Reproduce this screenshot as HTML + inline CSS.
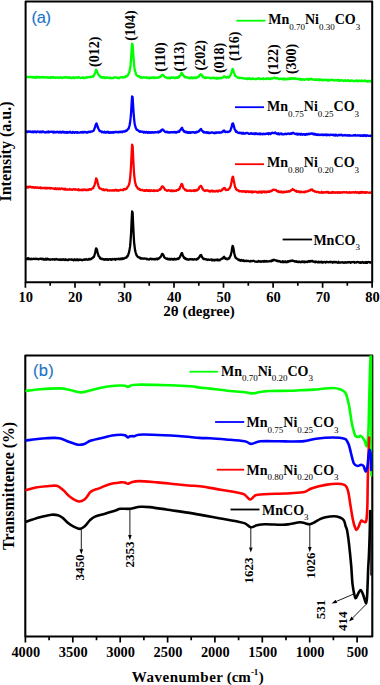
<!DOCTYPE html>
<html><head><meta charset="utf-8"><style>
html,body{margin:0;padding:0;background:#fff;}
svg{display:block;}
</style></head><body>
<svg width="380" height="685" viewBox="0 0 380 685">
<clipPath id="ca"><rect x="25.6" y="1.6" width="346.6" height="280.7"/></clipPath>
<clipPath id="cb"><rect x="25.3" y="355.5" width="347" height="281"/></clipPath>
<g clip-path="url(#ca)" fill="none" stroke-width="2.3" stroke-linejoin="round">
<path d="M25.6,258.7 L26.1,259.0 L26.6,258.9 L27.1,259.1 L27.6,258.3 L28.1,259.1 L28.6,258.2 L29.1,259.0 L29.6,258.9 L30.1,258.8 L30.6,259.3 L31.1,258.9 L31.6,258.7 L32.1,259.1 L32.6,259.2 L33.1,259.0 L33.6,258.7 L34.1,258.8 L34.6,258.8 L35.1,259.1 L35.6,258.7 L36.1,258.8 L36.6,259.0 L37.1,258.8 L37.6,258.8 L38.1,259.3 L38.6,259.3 L39.1,259.0 L39.6,258.9 L40.1,258.7 L40.6,258.8 L41.1,258.7 L41.6,259.1 L42.1,259.1 L42.6,258.7 L43.1,259.5 L43.6,258.9 L44.1,259.5 L44.6,259.5 L45.1,259.6 L45.6,258.8 L46.1,259.1 L46.6,259.6 L47.1,258.7 L47.6,258.7 L48.1,259.3 L48.6,259.2 L49.1,259.6 L49.6,259.5 L50.1,259.3 L50.6,259.8 L51.1,259.3 L51.6,259.3 L52.1,259.5 L52.6,259.2 L53.1,259.2 L53.6,259.4 L54.1,259.2 L54.6,259.8 L55.1,259.5 L55.6,259.4 L56.1,259.0 L56.6,259.3 L57.1,259.3 L57.6,259.5 L58.1,259.5 L58.6,259.8 L59.1,259.9 L59.6,259.5 L60.1,259.4 L60.6,259.6 L61.1,260.0 L61.6,259.4 L62.1,259.6 L62.6,259.8 L63.1,259.2 L63.6,259.4 L64.1,260.0 L64.6,259.9 L65.1,259.6 L65.6,259.2 L66.1,260.0 L66.6,259.8 L67.1,259.9 L67.6,260.1 L68.1,260.0 L68.6,259.6 L69.1,259.3 L69.6,259.5 L70.1,259.7 L70.6,259.7 L71.1,259.4 L71.6,259.4 L72.1,259.9 L72.6,259.8 L73.1,259.6 L73.6,260.3 L74.1,259.9 L74.6,259.3 L75.1,259.7 L75.6,260.1 L76.1,259.6 L76.6,260.0 L77.1,259.3 L77.6,259.6 L78.1,260.2 L78.6,259.9 L79.1,260.0 L79.6,259.5 L80.1,259.8 L80.6,259.9 L81.1,259.6 L81.6,260.0 L82.1,259.8 L82.6,260.3 L83.1,259.8 L83.6,259.7 L84.1,259.4 L84.6,259.4 L85.1,259.9 L85.6,259.3 L86.1,259.2 L86.6,259.3 L87.1,259.6 L87.6,259.8 L88.1,259.6 L88.6,259.7 L89.1,258.9 L89.6,258.8 L90.1,259.4 L90.6,258.9 L91.1,259.1 L91.6,258.6 L92.1,258.1 L92.6,257.9 L93.1,257.2 L93.6,257.4 L94.1,256.2 L94.6,254.6 L95.1,252.8 L95.6,250.5 L96.1,248.3 L96.6,248.9 L97.1,250.2 L97.6,252.9 L98.1,254.3 L98.6,255.9 L99.1,256.5 L99.6,257.0 L100.1,258.4 L100.6,258.7 L101.1,258.4 L101.6,259.1 L102.1,259.2 L102.6,258.8 L103.1,259.2 L103.6,259.6 L104.1,259.2 L104.6,259.7 L105.1,259.1 L105.6,259.2 L106.1,259.6 L106.6,259.1 L107.1,259.2 L107.6,259.8 L108.1,259.4 L108.6,259.7 L109.1,259.2 L109.6,259.1 L110.1,259.3 L110.6,259.1 L111.1,259.9 L111.6,259.2 L112.1,259.5 L112.6,259.0 L113.1,259.4 L113.6,259.3 L114.1,259.3 L114.6,258.9 L115.1,259.0 L115.6,259.7 L116.1,259.2 L116.6,259.0 L117.1,259.0 L117.6,259.0 L118.1,258.9 L118.6,258.7 L119.1,259.3 L119.6,258.9 L120.1,258.7 L120.6,259.2 L121.1,258.5 L121.6,258.6 L122.1,259.1 L122.6,258.3 L123.1,258.5 L123.6,258.8 L124.1,258.6 L124.6,257.8 L125.1,257.8 L125.6,257.9 L126.1,257.3 L126.6,257.5 L127.1,256.2 L127.6,256.3 L128.1,255.0 L128.6,253.6 L129.1,252.1 L129.6,249.4 L130.1,246.4 L130.6,240.4 L131.1,232.6 L131.6,221.0 L132.1,211.5 L132.6,212.6 L133.1,223.4 L133.6,233.9 L134.1,242.3 L134.6,246.6 L135.1,250.3 L135.6,252.6 L136.1,253.8 L136.6,255.4 L137.1,255.8 L137.6,256.7 L138.1,257.1 L138.6,257.2 L139.1,257.5 L139.6,257.5 L140.1,257.8 L140.6,258.6 L141.1,258.2 L141.6,258.6 L142.1,258.2 L142.6,258.7 L143.1,258.6 L143.6,258.8 L144.1,258.6 L144.6,258.4 L145.1,258.7 L145.6,258.7 L146.1,258.6 L146.6,259.2 L147.1,258.8 L147.6,258.9 L148.1,259.5 L148.6,259.3 L149.1,259.5 L149.6,259.4 L150.1,258.7 L150.6,258.9 L151.1,258.6 L151.6,259.3 L152.1,259.3 L152.6,259.0 L153.1,259.0 L153.6,259.3 L154.1,259.3 L154.6,258.9 L155.1,259.4 L155.6,258.9 L156.1,259.2 L156.6,258.7 L157.1,258.5 L157.6,259.3 L158.1,259.0 L158.6,258.8 L159.1,258.0 L159.6,257.7 L160.1,257.4 L160.6,256.8 L161.1,256.1 L161.6,255.1 L162.1,253.8 L162.6,253.8 L163.1,254.8 L163.6,255.4 L164.1,257.1 L164.6,257.5 L165.1,258.2 L165.6,258.1 L166.1,258.5 L166.6,258.9 L167.1,258.7 L167.6,258.5 L168.1,259.4 L168.6,259.4 L169.1,259.0 L169.6,258.8 L170.1,259.6 L170.6,259.4 L171.1,258.8 L171.6,259.0 L172.1,258.9 L172.6,259.6 L173.1,259.0 L173.6,259.7 L174.1,259.5 L174.6,258.8 L175.1,259.4 L175.6,259.1 L176.1,259.4 L176.6,259.4 L177.1,258.7 L177.6,258.4 L178.1,259.0 L178.6,258.2 L179.1,258.3 L179.6,257.5 L180.1,256.7 L180.6,255.6 L181.1,254.1 L181.6,253.2 L182.1,253.1 L182.6,255.0 L183.1,255.9 L183.6,257.0 L184.1,258.1 L184.6,257.8 L185.1,258.8 L185.6,258.3 L186.1,259.2 L186.6,259.4 L187.1,259.0 L187.6,259.3 L188.1,259.8 L188.6,259.5 L189.1,259.5 L189.6,259.2 L190.1,259.0 L190.6,259.4 L191.1,259.4 L191.6,259.2 L192.1,259.3 L192.6,259.2 L193.1,259.7 L193.6,259.7 L194.1,259.2 L194.6,259.2 L195.1,259.4 L195.6,259.3 L196.1,259.7 L196.6,259.0 L197.1,258.8 L197.6,259.2 L198.1,258.1 L198.6,258.1 L199.1,257.2 L199.6,256.8 L200.1,255.5 L200.6,255.2 L201.1,254.9 L201.6,256.3 L202.1,257.2 L202.6,257.8 L203.1,258.7 L203.6,259.1 L204.1,258.7 L204.6,259.1 L205.1,259.3 L205.6,259.2 L206.1,259.2 L206.6,259.5 L207.1,259.4 L207.6,260.0 L208.1,259.8 L208.6,259.5 L209.1,259.7 L209.6,259.9 L210.1,259.8 L210.6,259.6 L211.1,259.6 L211.6,259.5 L212.1,260.5 L212.6,260.3 L213.1,259.6 L213.6,260.3 L214.1,260.5 L214.6,260.1 L215.1,259.7 L215.6,260.0 L216.1,260.0 L216.6,259.7 L217.1,260.1 L217.6,259.5 L218.1,260.4 L218.6,260.1 L219.1,260.0 L219.6,260.3 L220.1,259.9 L220.6,259.4 L221.1,259.2 L221.6,258.8 L222.1,258.4 L222.6,258.6 L223.1,258.1 L223.6,257.0 L224.1,256.8 L224.6,257.6 L225.1,258.4 L225.6,258.9 L226.1,258.4 L226.6,259.2 L227.1,259.3 L227.6,259.2 L228.1,258.6 L228.6,258.2 L229.1,258.5 L229.6,257.4 L230.1,256.6 L230.6,255.6 L231.1,253.7 L231.6,251.7 L232.1,248.2 L232.6,245.9 L233.1,246.8 L233.6,249.2 L234.1,252.3 L234.6,254.6 L235.1,256.5 L235.6,257.7 L236.1,258.0 L236.6,258.6 L237.1,258.7 L237.6,259.2 L238.1,259.7 L238.6,259.4 L239.1,260.2 L239.6,259.8 L240.1,260.2 L240.6,260.8 L241.1,260.0 L241.6,260.1 L242.1,260.5 L242.6,260.3 L243.1,260.9 L243.6,260.2 L244.1,261.1 L244.6,261.2 L245.1,261.1 L245.6,260.8 L246.1,260.7 L246.6,261.1 L247.1,261.0 L247.6,260.9 L248.1,260.8 L248.6,261.0 L249.1,261.2 L249.6,261.4 L250.1,261.5 L250.6,260.8 L251.1,260.9 L251.6,261.1 L252.1,261.2 L252.6,261.0 L253.1,260.9 L253.6,260.8 L254.1,261.0 L254.6,261.2 L255.1,261.7 L255.6,261.7 L256.1,261.6 L256.6,261.8 L257.1,261.8 L257.6,261.4 L258.1,261.6 L258.6,260.9 L259.1,261.5 L259.6,261.5 L260.1,261.2 L260.6,261.4 L261.1,261.8 L261.6,261.4 L262.1,261.5 L262.6,261.2 L263.1,261.3 L263.6,261.8 L264.1,261.0 L264.6,261.1 L265.1,261.6 L265.6,261.4 L266.1,261.0 L266.6,261.6 L267.1,261.3 L267.6,261.5 L268.1,261.3 L268.6,261.4 L269.1,261.4 L269.6,261.2 L270.1,260.8 L270.6,260.8 L271.1,261.4 L271.6,260.9 L272.1,260.3 L272.6,260.9 L273.1,260.0 L273.6,259.7 L274.1,260.0 L274.6,259.8 L275.1,260.2 L275.6,260.4 L276.1,260.3 L276.6,260.9 L277.1,260.6 L277.6,261.2 L278.1,261.4 L278.6,261.0 L279.1,261.4 L279.6,261.1 L280.1,261.5 L280.6,262.0 L281.1,261.7 L281.6,261.9 L282.1,262.0 L282.6,261.3 L283.1,262.2 L283.6,262.0 L284.1,261.4 L284.6,262.1 L285.1,261.6 L285.6,261.4 L286.1,262.2 L286.6,261.8 L287.1,262.0 L287.6,261.3 L288.1,261.9 L288.6,261.1 L289.1,261.2 L289.6,261.3 L290.1,260.8 L290.6,261.3 L291.1,260.7 L291.6,260.6 L292.1,260.9 L292.6,260.5 L293.1,261.0 L293.6,260.8 L294.1,261.3 L294.6,261.1 L295.1,261.6 L295.6,261.7 L296.1,261.1 L296.6,261.8 L297.1,261.5 L297.6,262.0 L298.1,261.9 L298.6,262.1 L299.1,261.4 L299.6,261.7 L300.1,262.1 L300.6,262.3 L301.1,262.1 L301.6,261.5 L302.1,262.0 L302.6,261.5 L303.1,262.0 L303.6,262.2 L304.1,261.5 L304.6,262.3 L305.1,262.1 L305.6,261.6 L306.1,261.6 L306.6,261.8 L307.1,262.2 L307.6,261.9 L308.1,261.3 L308.6,261.2 L309.1,261.2 L309.6,261.8 L310.1,261.0 L310.6,261.3 L311.1,260.9 L311.6,261.3 L312.1,261.1 L312.6,260.9 L313.1,261.8 L313.6,261.6 L314.1,261.8 L314.6,262.0 L315.1,262.3 L315.6,261.4 L316.1,261.8 L316.6,261.6 L317.1,262.0 L317.6,262.4 L318.1,262.3 L318.6,261.6 L319.1,261.8 L319.6,262.4 L320.1,262.3 L320.6,262.0 L321.1,262.1 L321.6,261.8 L322.1,262.5 L322.6,262.0 L323.1,262.5 L323.6,262.3 L324.1,261.8 L324.6,262.0 L325.1,261.9 L325.6,262.6 L326.1,262.3 L326.6,261.7 L327.1,261.9 L327.6,262.1 L328.1,262.2 L328.6,262.3 L329.1,262.1 L329.6,262.1 L330.1,261.7 L330.6,262.3 L331.1,262.1 L331.6,261.8 L332.1,262.2 L332.6,262.7 L333.1,261.8 L333.6,261.9 L334.1,262.4 L334.6,262.0 L335.1,262.0 L335.6,262.3 L336.1,262.0 L336.6,262.4 L337.1,262.3 L337.6,262.7 L338.1,262.8 L338.6,261.8 L339.1,262.4 L339.6,262.6 L340.1,262.7 L340.6,262.6 L341.1,262.4 L341.6,262.4 L342.1,262.2 L342.6,262.1 L343.1,262.6 L343.6,262.7 L344.1,262.8 L344.6,262.5 L345.1,262.1 L345.6,262.6 L346.1,262.6 L346.6,262.4 L347.1,262.5 L347.6,262.2 L348.1,262.4 L348.6,262.3 L349.1,261.9 L349.6,262.2 L350.1,262.2 L350.6,262.9 L351.1,262.4 L351.6,262.2 L352.1,262.1 L352.6,262.1 L353.1,262.2 L353.6,262.0 L354.1,261.9 L354.6,262.8 L355.1,262.3 L355.6,262.3 L356.1,262.5 L356.6,262.2 L357.1,262.1 L357.6,262.0 L358.1,262.2 L358.6,262.2 L359.1,262.6 L359.6,262.5 L360.1,262.9 L360.6,262.3 L361.1,262.9 L361.6,262.5 L362.1,262.0 L362.6,262.1 L363.1,262.5 L363.6,262.9 L364.1,262.3 L364.6,262.7 L365.1,262.4 L365.6,262.8 L366.1,262.0 L366.6,262.4 L367.1,262.9 L367.6,262.2 L368.1,262.2 L368.6,262.0 L369.1,262.1 L369.6,262.2 L370.1,262.7 L370.6,262.2 L371.1,262.4 L371.6,262.2" stroke="#000"/>
<path d="M25.6,186.7 L26.1,187.2 L26.6,186.9 L27.1,187.3 L27.6,186.7 L28.1,187.6 L28.6,187.0 L29.1,186.7 L29.6,187.0 L30.1,187.1 L30.6,186.7 L31.1,187.2 L31.6,187.2 L32.1,187.5 L32.6,187.2 L33.1,187.1 L33.6,187.1 L34.1,187.7 L34.6,187.9 L35.1,187.5 L35.6,187.2 L36.1,187.8 L36.6,187.5 L37.1,187.3 L37.6,187.3 L38.1,187.9 L38.6,188.0 L39.1,187.8 L39.6,187.7 L40.1,187.8 L40.6,187.5 L41.1,188.3 L41.6,187.7 L42.1,188.0 L42.6,188.2 L43.1,188.2 L43.6,187.9 L44.1,187.8 L44.6,188.1 L45.1,187.7 L45.6,188.4 L46.1,187.9 L46.6,188.5 L47.1,187.9 L47.6,188.0 L48.1,188.0 L48.6,188.2 L49.1,187.9 L49.6,187.8 L50.1,188.5 L50.6,188.1 L51.1,188.1 L51.6,188.2 L52.1,188.4 L52.6,188.4 L53.1,188.6 L53.6,188.7 L54.1,188.4 L54.6,189.0 L55.1,188.9 L55.6,188.2 L56.1,189.0 L56.6,189.1 L57.1,189.0 L57.6,188.4 L58.1,189.1 L58.6,188.9 L59.1,188.3 L59.6,188.3 L60.1,189.3 L60.6,189.0 L61.1,188.7 L61.6,188.5 L62.1,188.6 L62.6,188.7 L63.1,189.3 L63.6,188.9 L64.1,188.7 L64.6,189.5 L65.1,189.4 L65.6,188.8 L66.1,189.6 L66.6,189.3 L67.1,189.5 L67.6,189.4 L68.1,189.7 L68.6,189.6 L69.1,189.7 L69.6,189.0 L70.1,189.6 L70.6,189.4 L71.1,189.7 L71.6,189.4 L72.1,189.9 L72.6,189.6 L73.1,189.3 L73.6,189.3 L74.1,189.2 L74.6,189.6 L75.1,189.2 L75.6,189.6 L76.1,189.3 L76.6,189.7 L77.1,189.7 L77.6,189.8 L78.1,190.1 L78.6,189.3 L79.1,190.2 L79.6,189.8 L80.1,189.9 L80.6,190.0 L81.1,190.2 L81.6,189.7 L82.1,189.8 L82.6,190.3 L83.1,189.4 L83.6,190.0 L84.1,190.0 L84.6,189.4 L85.1,189.9 L85.6,190.0 L86.1,190.2 L86.6,189.6 L87.1,190.2 L87.6,189.7 L88.1,189.7 L88.6,190.0 L89.1,189.1 L89.6,189.7 L90.1,189.5 L90.6,189.1 L91.1,189.5 L91.6,188.8 L92.1,188.7 L92.6,188.4 L93.1,188.2 L93.6,187.0 L94.1,186.2 L94.6,184.8 L95.1,183.1 L95.6,181.0 L96.1,178.4 L96.6,178.8 L97.1,180.1 L97.6,182.6 L98.1,184.4 L98.6,186.1 L99.1,187.6 L99.6,188.1 L100.1,188.7 L100.6,188.6 L101.1,188.9 L101.6,189.1 L102.1,189.5 L102.6,189.7 L103.1,190.0 L103.6,189.3 L104.1,190.1 L104.6,190.3 L105.1,190.0 L105.6,189.6 L106.1,189.9 L106.6,189.6 L107.1,189.8 L107.6,190.6 L108.1,190.3 L108.6,190.4 L109.1,190.5 L109.6,190.6 L110.1,190.4 L110.6,190.4 L111.1,190.4 L111.6,190.5 L112.1,190.4 L112.6,190.5 L113.1,190.0 L113.6,190.5 L114.1,190.3 L114.6,190.6 L115.1,189.9 L115.6,190.0 L116.1,189.8 L116.6,190.6 L117.1,190.7 L117.6,190.4 L118.1,190.1 L118.6,190.6 L119.1,190.5 L119.6,190.3 L120.1,189.9 L120.6,189.9 L121.1,190.0 L121.6,189.8 L122.1,189.9 L122.6,190.0 L123.1,190.2 L123.6,189.3 L124.1,189.6 L124.6,189.0 L125.1,188.9 L125.6,189.3 L126.1,188.8 L126.6,188.8 L127.1,187.9 L127.6,186.8 L128.1,186.4 L128.6,185.5 L129.1,184.3 L129.6,182.0 L130.1,178.1 L130.6,172.7 L131.1,164.3 L131.6,154.1 L132.1,144.7 L132.6,145.8 L133.1,155.7 L133.6,166.1 L134.1,174.2 L134.6,178.5 L135.1,182.6 L135.6,183.8 L136.1,186.1 L136.6,186.4 L137.1,187.0 L137.6,188.3 L138.1,188.3 L138.6,189.1 L139.1,188.9 L139.6,189.0 L140.1,189.9 L140.6,190.0 L141.1,190.2 L141.6,190.2 L142.1,189.7 L142.6,190.3 L143.1,190.5 L143.6,190.3 L144.1,190.8 L144.6,190.2 L145.1,190.9 L145.6,190.7 L146.1,190.0 L146.6,190.1 L147.1,190.7 L147.6,190.9 L148.1,190.2 L148.6,190.4 L149.1,190.9 L149.6,190.3 L150.1,191.0 L150.6,190.7 L151.1,190.2 L151.6,190.5 L152.1,190.8 L152.6,190.6 L153.1,190.9 L153.6,190.3 L154.1,191.0 L154.6,190.5 L155.1,190.8 L155.6,190.7 L156.1,190.5 L156.6,190.4 L157.1,190.8 L157.6,190.9 L158.1,190.6 L158.6,190.2 L159.1,189.8 L159.6,189.3 L160.1,189.8 L160.6,189.0 L161.1,188.4 L161.6,187.0 L162.1,186.3 L162.6,186.4 L163.1,186.9 L163.6,187.6 L164.1,188.2 L164.6,189.0 L165.1,189.9 L165.6,189.7 L166.1,190.3 L166.6,190.4 L167.1,190.8 L167.6,190.8 L168.1,190.3 L168.6,190.1 L169.1,190.4 L169.6,190.6 L170.1,190.8 L170.6,191.0 L171.1,191.1 L171.6,190.2 L172.1,191.0 L172.6,191.0 L173.1,191.1 L173.6,190.7 L174.1,190.4 L174.6,191.0 L175.1,190.9 L175.6,190.7 L176.1,190.9 L176.6,190.2 L177.1,189.8 L177.6,190.1 L178.1,190.1 L178.6,189.2 L179.1,189.3 L179.6,188.9 L180.1,187.2 L180.6,186.4 L181.1,185.0 L181.6,184.0 L182.1,184.1 L182.6,185.5 L183.1,187.3 L183.6,188.4 L184.1,188.8 L184.6,189.0 L185.1,190.1 L185.6,190.3 L186.1,189.9 L186.6,190.4 L187.1,190.8 L187.6,190.9 L188.1,190.6 L188.6,190.6 L189.1,190.8 L189.6,190.4 L190.1,190.4 L190.6,190.4 L191.1,191.0 L191.6,190.6 L192.1,190.8 L192.6,190.6 L193.1,190.8 L193.6,190.4 L194.1,190.2 L194.6,191.1 L195.1,190.5 L195.6,190.1 L196.1,190.6 L196.6,190.6 L197.1,189.8 L197.6,190.0 L198.1,189.4 L198.6,189.0 L199.1,187.8 L199.6,186.9 L200.1,186.7 L200.6,186.0 L201.1,185.9 L201.6,187.0 L202.1,187.7 L202.6,189.1 L203.1,189.3 L203.6,190.3 L204.1,190.4 L204.6,190.7 L205.1,191.0 L205.6,190.4 L206.1,190.3 L206.6,190.5 L207.1,190.5 L207.6,190.5 L208.1,190.5 L208.6,191.0 L209.1,191.4 L209.6,191.0 L210.1,191.5 L210.6,191.5 L211.1,190.6 L211.6,191.2 L212.1,191.0 L212.6,190.7 L213.1,191.6 L213.6,190.9 L214.1,191.2 L214.6,191.3 L215.1,191.6 L215.6,191.3 L216.1,191.0 L216.6,191.0 L217.1,190.7 L217.6,191.5 L218.1,191.5 L218.6,190.7 L219.1,190.5 L219.6,190.6 L220.1,190.6 L220.6,191.0 L221.1,190.9 L221.6,190.5 L222.1,189.4 L222.6,189.6 L223.1,188.9 L223.6,188.3 L224.1,188.6 L224.6,188.0 L225.1,188.6 L225.6,189.7 L226.1,190.2 L226.6,190.0 L227.1,189.7 L227.6,189.9 L228.1,189.9 L228.6,189.0 L229.1,188.8 L229.6,188.2 L230.1,187.2 L230.6,186.3 L231.1,184.1 L231.6,181.7 L232.1,178.6 L232.6,177.0 L233.1,176.6 L233.6,179.8 L234.1,182.3 L234.6,184.6 L235.1,187.2 L235.6,187.7 L236.1,189.3 L236.6,189.8 L237.1,190.3 L237.6,189.9 L238.1,190.4 L238.6,190.3 L239.1,191.3 L239.6,191.3 L240.1,191.2 L240.6,191.1 L241.1,191.1 L241.6,191.6 L242.1,191.4 L242.6,191.6 L243.1,191.1 L243.6,191.2 L244.1,191.1 L244.6,191.8 L245.1,191.7 L245.6,191.3 L246.1,192.0 L246.6,191.5 L247.1,191.6 L247.6,191.4 L248.1,191.5 L248.6,192.1 L249.1,191.6 L249.6,191.5 L250.1,191.8 L250.6,191.6 L251.1,192.2 L251.6,191.5 L252.1,192.3 L252.6,191.4 L253.1,192.3 L253.6,192.1 L254.1,191.6 L254.6,191.9 L255.1,191.7 L255.6,191.7 L256.1,191.6 L256.6,191.8 L257.1,192.4 L257.6,192.5 L258.1,192.4 L258.6,191.6 L259.1,191.8 L259.6,192.4 L260.1,191.5 L260.6,192.2 L261.1,191.8 L261.6,192.5 L262.1,191.5 L262.6,192.3 L263.1,191.8 L263.6,191.6 L264.1,191.5 L264.6,192.3 L265.1,192.0 L265.6,191.6 L266.1,191.9 L266.6,192.3 L267.1,191.6 L267.6,191.9 L268.1,191.4 L268.6,191.4 L269.1,191.9 L269.6,191.8 L270.1,191.2 L270.6,190.9 L271.1,190.7 L271.6,191.0 L272.1,190.6 L272.6,190.1 L273.1,189.7 L273.6,189.8 L274.1,189.7 L274.6,189.9 L275.1,189.8 L275.6,189.8 L276.1,190.0 L276.6,191.0 L277.1,190.9 L277.6,191.5 L278.1,191.0 L278.6,191.9 L279.1,191.5 L279.6,192.1 L280.1,192.2 L280.6,191.9 L281.1,191.5 L281.6,192.4 L282.1,192.0 L282.6,192.4 L283.1,191.8 L283.6,191.7 L284.1,192.4 L284.6,191.9 L285.1,191.7 L285.6,191.8 L286.1,192.0 L286.6,191.4 L287.1,191.8 L287.6,191.7 L288.1,191.7 L288.6,191.1 L289.1,191.6 L289.6,191.5 L290.1,191.3 L290.6,190.4 L291.1,190.5 L291.6,189.8 L292.1,189.8 L292.6,189.0 L293.1,189.8 L293.6,190.1 L294.1,190.0 L294.6,190.4 L295.1,190.7 L295.6,191.0 L296.1,190.7 L296.6,191.9 L297.1,191.3 L297.6,191.4 L298.1,191.4 L298.6,191.6 L299.1,192.2 L299.6,191.5 L300.1,191.6 L300.6,192.2 L301.1,191.7 L301.6,191.6 L302.1,192.1 L302.6,192.1 L303.1,192.1 L303.6,192.2 L304.1,191.6 L304.6,192.3 L305.1,192.2 L305.6,191.4 L306.1,191.5 L306.6,191.7 L307.1,191.6 L307.6,191.3 L308.1,191.0 L308.6,191.0 L309.1,190.5 L309.6,190.7 L310.1,190.6 L310.6,189.6 L311.1,189.8 L311.6,189.9 L312.1,189.4 L312.6,190.4 L313.1,190.8 L313.6,190.6 L314.1,191.0 L314.6,191.6 L315.1,191.5 L315.6,191.5 L316.1,192.2 L316.6,192.1 L317.1,191.8 L317.6,191.8 L318.1,191.9 L318.6,192.1 L319.1,192.6 L319.6,192.5 L320.1,192.6 L320.6,192.6 L321.1,192.6 L321.6,191.8 L322.1,192.3 L322.6,192.8 L323.1,192.8 L323.6,192.1 L324.1,192.3 L324.6,192.5 L325.1,192.2 L325.6,192.4 L326.1,191.9 L326.6,192.3 L327.1,192.4 L327.6,191.9 L328.1,192.0 L328.6,192.9 L329.1,192.7 L329.6,192.8 L330.1,192.5 L330.6,192.7 L331.1,192.8 L331.6,192.8 L332.1,192.0 L332.6,192.6 L333.1,192.2 L333.6,192.6 L334.1,192.2 L334.6,192.5 L335.1,192.9 L335.6,192.6 L336.1,192.2 L336.6,192.5 L337.1,192.4 L337.6,192.9 L338.1,192.2 L338.6,192.3 L339.1,192.6 L339.6,192.1 L340.1,192.5 L340.6,192.9 L341.1,192.5 L341.6,192.2 L342.1,192.4 L342.6,192.5 L343.1,192.1 L343.6,192.1 L344.1,192.1 L344.6,192.3 L345.1,192.4 L345.6,192.3 L346.1,192.2 L346.6,192.1 L347.1,192.5 L347.6,192.8 L348.1,192.6 L348.6,192.5 L349.1,192.6 L349.6,192.2 L350.1,192.7 L350.6,192.4 L351.1,192.5 L351.6,192.6 L352.1,192.4 L352.6,192.3 L353.1,192.2 L353.6,192.2 L354.1,192.5 L354.6,192.4 L355.1,192.6 L355.6,192.0 L356.1,192.3 L356.6,192.8 L357.1,192.2 L357.6,192.5 L358.1,192.5 L358.6,192.3 L359.1,193.0 L359.6,192.3 L360.1,192.8 L360.6,192.1 L361.1,192.0 L361.6,192.9 L362.1,192.4 L362.6,192.0 L363.1,192.4 L363.6,192.4 L364.1,192.7 L364.6,192.1 L365.1,192.2 L365.6,192.9 L366.1,192.7 L366.6,192.1 L367.1,192.3 L367.6,192.3 L368.1,192.7 L368.6,192.6 L369.1,192.8 L369.6,192.8 L370.1,192.5 L370.6,192.7 L371.1,192.7 L371.6,192.7" stroke="#f00"/>
<path d="M25.6,131.9 L26.1,131.6 L26.6,131.5 L27.1,131.9 L27.6,132.1 L28.1,131.4 L28.6,131.3 L29.1,131.6 L29.6,131.7 L30.1,131.9 L30.6,131.5 L31.1,132.1 L31.6,132.0 L32.1,131.8 L32.6,131.5 L33.1,132.3 L33.6,131.6 L34.1,132.1 L34.6,131.5 L35.1,131.5 L35.6,132.1 L36.1,131.6 L36.6,132.3 L37.1,131.8 L37.6,131.5 L38.1,131.6 L38.6,131.8 L39.1,132.0 L39.6,132.3 L40.1,131.5 L40.6,131.8 L41.1,131.6 L41.6,132.4 L42.1,131.6 L42.6,131.5 L43.1,131.5 L43.6,131.8 L44.1,132.3 L44.6,132.3 L45.1,132.2 L45.6,132.5 L46.1,132.4 L46.6,131.8 L47.1,131.7 L47.6,132.4 L48.1,132.3 L48.6,131.5 L49.1,132.2 L49.6,131.9 L50.1,131.9 L50.6,131.9 L51.1,131.7 L51.6,131.6 L52.1,131.8 L52.6,131.9 L53.1,132.5 L53.6,131.7 L54.1,132.6 L54.6,131.8 L55.1,132.0 L55.6,132.4 L56.1,132.4 L56.6,132.1 L57.1,131.7 L57.6,132.1 L58.1,132.0 L58.6,132.6 L59.1,131.9 L59.6,132.0 L60.1,132.6 L60.6,131.7 L61.1,132.1 L61.6,132.5 L62.1,132.5 L62.6,131.7 L63.1,131.7 L63.6,131.8 L64.1,132.6 L64.6,132.0 L65.1,132.5 L65.6,132.6 L66.1,132.1 L66.6,132.0 L67.1,132.7 L67.6,132.4 L68.1,132.0 L68.6,132.5 L69.1,132.1 L69.6,132.1 L70.1,131.8 L70.6,132.6 L71.1,132.7 L71.6,132.4 L72.1,132.8 L72.6,131.9 L73.1,132.1 L73.6,132.3 L74.1,132.8 L74.6,132.8 L75.1,132.2 L75.6,132.1 L76.1,132.3 L76.6,132.4 L77.1,132.8 L77.6,132.1 L78.1,132.7 L78.6,132.6 L79.1,132.7 L79.6,132.7 L80.1,132.5 L80.6,132.2 L81.1,132.2 L81.6,132.2 L82.1,132.6 L82.6,131.9 L83.1,132.0 L83.6,132.6 L84.1,132.1 L84.6,131.9 L85.1,131.8 L85.6,132.3 L86.1,132.1 L86.6,132.7 L87.1,132.6 L87.6,132.7 L88.1,131.9 L88.6,131.7 L89.1,131.7 L89.6,132.0 L90.1,132.1 L90.6,131.8 L91.1,131.5 L91.6,131.5 L92.1,131.5 L92.6,131.3 L93.1,131.0 L93.6,130.6 L94.1,129.7 L94.6,128.1 L95.1,127.4 L95.6,125.1 L96.1,123.9 L96.6,123.5 L97.1,125.2 L97.6,126.4 L98.1,128.0 L98.6,129.1 L99.1,129.8 L99.6,131.1 L100.1,131.1 L100.6,131.2 L101.1,131.4 L101.6,132.2 L102.1,131.8 L102.6,131.6 L103.1,132.3 L103.6,132.2 L104.1,132.6 L104.6,131.7 L105.1,132.1 L105.6,132.5 L106.1,132.6 L106.6,132.7 L107.1,131.8 L107.6,132.1 L108.1,131.9 L108.6,132.0 L109.1,132.8 L109.6,132.4 L110.1,132.7 L110.6,132.2 L111.1,132.7 L111.6,132.3 L112.1,132.1 L112.6,132.6 L113.1,132.8 L113.6,131.9 L114.1,132.4 L114.6,132.4 L115.1,132.0 L115.6,132.1 L116.1,131.9 L116.6,132.0 L117.1,132.0 L117.6,132.3 L118.1,132.4 L118.6,131.9 L119.1,131.7 L119.6,132.0 L120.1,132.3 L120.6,131.7 L121.1,131.8 L121.6,131.7 L122.1,132.2 L122.6,131.9 L123.1,131.3 L123.6,131.3 L124.1,131.5 L124.6,131.5 L125.1,131.5 L125.6,130.7 L126.1,130.6 L126.6,130.8 L127.1,130.2 L127.6,129.5 L128.1,128.9 L128.6,128.7 L129.1,126.8 L129.6,125.3 L130.1,122.3 L130.6,118.2 L131.1,112.3 L131.6,103.9 L132.1,96.3 L132.6,97.0 L133.1,105.4 L133.6,113.1 L134.1,118.8 L134.6,123.5 L135.1,125.5 L135.6,127.6 L136.1,128.4 L136.6,129.7 L137.1,129.9 L137.6,130.0 L138.1,130.2 L138.6,131.0 L139.1,131.3 L139.6,131.8 L140.1,131.1 L140.6,131.8 L141.1,131.6 L141.6,131.8 L142.1,131.6 L142.6,131.8 L143.1,132.1 L143.6,132.5 L144.1,131.7 L144.6,132.2 L145.1,132.5 L145.6,132.7 L146.1,132.0 L146.6,131.9 L147.1,132.7 L147.6,132.8 L148.1,132.3 L148.6,131.9 L149.1,132.8 L149.6,132.3 L150.1,132.8 L150.6,132.5 L151.1,132.7 L151.6,132.1 L152.1,132.7 L152.6,132.1 L153.1,132.3 L153.6,132.7 L154.1,132.7 L154.6,132.1 L155.1,132.1 L155.6,132.3 L156.1,132.4 L156.6,132.2 L157.1,131.9 L157.6,132.0 L158.1,132.4 L158.6,132.5 L159.1,131.5 L159.6,131.9 L160.1,131.8 L160.6,130.8 L161.1,131.1 L161.6,129.8 L162.1,129.7 L162.6,129.4 L163.1,129.9 L163.6,130.2 L164.1,130.9 L164.6,131.5 L165.1,131.6 L165.6,132.1 L166.1,132.0 L166.6,132.1 L167.1,131.8 L167.6,132.4 L168.1,132.3 L168.6,132.1 L169.1,132.7 L169.6,132.7 L170.1,132.4 L170.6,132.1 L171.1,132.4 L171.6,132.1 L172.1,132.1 L172.6,132.4 L173.1,132.0 L173.6,132.4 L174.1,132.4 L174.6,131.9 L175.1,132.5 L175.6,131.9 L176.1,132.5 L176.6,132.5 L177.1,132.1 L177.6,131.6 L178.1,131.9 L178.6,131.5 L179.1,131.8 L179.6,130.5 L180.1,130.6 L180.6,129.9 L181.1,128.7 L181.6,128.2 L182.1,127.8 L182.6,129.5 L183.1,129.9 L183.6,131.1 L184.1,131.6 L184.6,131.2 L185.1,132.1 L185.6,132.4 L186.1,131.7 L186.6,132.1 L187.1,132.5 L187.6,132.0 L188.1,132.8 L188.6,132.2 L189.1,132.8 L189.6,132.1 L190.1,132.5 L190.6,132.9 L191.1,132.2 L191.6,132.3 L192.1,132.5 L192.6,132.3 L193.1,132.0 L193.6,132.2 L194.1,132.1 L194.6,132.9 L195.1,132.6 L195.6,132.7 L196.1,132.0 L196.6,132.5 L197.1,131.7 L197.6,132.0 L198.1,131.8 L198.6,131.2 L199.1,131.3 L199.6,130.3 L200.1,129.6 L200.6,129.5 L201.1,128.9 L201.6,130.5 L202.1,130.8 L202.6,131.2 L203.1,132.0 L203.6,131.7 L204.1,132.6 L204.6,132.3 L205.1,132.2 L205.6,132.7 L206.1,132.5 L206.6,132.2 L207.1,132.9 L207.6,132.2 L208.1,133.0 L208.6,132.5 L209.1,132.9 L209.6,133.2 L210.1,132.8 L210.6,132.9 L211.1,132.6 L211.6,132.3 L212.1,132.3 L212.6,132.5 L213.1,132.9 L213.6,132.8 L214.1,132.9 L214.6,133.2 L215.1,132.5 L215.6,132.6 L216.1,133.0 L216.6,132.4 L217.1,132.3 L217.6,132.7 L218.1,132.4 L218.6,132.6 L219.1,132.5 L219.6,132.8 L220.1,132.7 L220.6,132.3 L221.1,132.6 L221.6,132.3 L222.1,131.7 L222.6,132.1 L223.1,131.0 L223.6,130.6 L224.1,130.5 L224.6,131.3 L225.1,131.9 L225.6,132.1 L226.1,131.9 L226.6,131.8 L227.1,131.6 L227.6,132.2 L228.1,132.0 L228.6,131.6 L229.1,131.7 L229.6,131.1 L230.1,131.0 L230.6,130.0 L231.1,128.3 L231.6,127.2 L232.1,124.4 L232.6,123.5 L233.1,123.5 L233.6,125.0 L234.1,126.9 L234.6,129.2 L235.1,129.6 L235.6,130.9 L236.1,131.9 L236.6,131.5 L237.1,131.9 L237.6,132.5 L238.1,132.6 L238.6,132.9 L239.1,133.1 L239.6,132.6 L240.1,132.8 L240.6,132.9 L241.1,132.7 L241.6,133.6 L242.1,133.5 L242.6,133.5 L243.1,132.8 L243.6,133.6 L244.1,133.6 L244.6,133.3 L245.1,133.6 L245.6,133.4 L246.1,133.1 L246.6,133.0 L247.1,133.2 L247.6,133.0 L248.1,133.3 L248.6,133.8 L249.1,133.7 L249.6,133.9 L250.1,133.8 L250.6,133.3 L251.1,133.6 L251.6,133.5 L252.1,133.9 L252.6,133.6 L253.1,133.4 L253.6,133.8 L254.1,134.1 L254.6,133.4 L255.1,134.0 L255.6,133.2 L256.1,133.4 L256.6,133.4 L257.1,133.9 L257.6,134.2 L258.1,134.0 L258.6,133.6 L259.1,134.1 L259.6,133.6 L260.1,133.5 L260.6,134.2 L261.1,133.9 L261.6,134.0 L262.1,133.9 L262.6,134.3 L263.1,133.8 L263.6,134.1 L264.1,134.0 L264.6,134.2 L265.1,133.7 L265.6,134.0 L266.1,133.9 L266.6,133.6 L267.1,133.5 L267.6,133.9 L268.1,133.3 L268.6,134.2 L269.1,133.4 L269.6,133.2 L270.1,133.3 L270.6,134.0 L271.1,133.4 L271.6,133.1 L272.1,132.8 L272.6,132.7 L273.1,133.2 L273.6,133.1 L274.1,133.0 L274.6,133.1 L275.1,132.5 L275.6,133.2 L276.1,133.1 L276.6,133.7 L277.1,133.9 L277.6,134.0 L278.1,133.3 L278.6,134.2 L279.1,134.3 L279.6,134.3 L280.1,133.5 L280.6,133.7 L281.1,133.6 L281.6,133.5 L282.1,134.4 L282.6,134.3 L283.1,134.2 L283.6,134.4 L284.1,134.2 L284.6,133.9 L285.1,133.7 L285.6,133.7 L286.1,134.3 L286.6,133.8 L287.1,133.9 L287.6,133.9 L288.1,133.5 L288.6,133.7 L289.1,133.7 L289.6,134.0 L290.1,133.6 L290.6,133.4 L291.1,133.9 L291.6,133.3 L292.1,133.6 L292.6,133.3 L293.1,132.7 L293.6,133.2 L294.1,133.3 L294.6,133.8 L295.1,133.6 L295.6,134.0 L296.1,134.0 L296.6,133.7 L297.1,134.5 L297.6,133.7 L298.1,134.5 L298.6,133.9 L299.1,133.8 L299.6,134.0 L300.1,134.6 L300.6,134.8 L301.1,133.8 L301.6,134.3 L302.1,134.4 L302.6,134.7 L303.1,134.1 L303.6,134.4 L304.1,134.2 L304.6,134.7 L305.1,134.1 L305.6,134.8 L306.1,134.1 L306.6,134.0 L307.1,134.5 L307.6,134.2 L308.1,133.8 L308.6,134.2 L309.1,133.6 L309.6,134.1 L310.1,133.9 L310.6,133.9 L311.1,133.6 L311.6,133.3 L312.1,133.5 L312.6,133.6 L313.1,134.2 L313.6,133.6 L314.1,134.5 L314.6,133.8 L315.1,134.0 L315.6,134.2 L316.1,134.9 L316.6,134.5 L317.1,134.4 L317.6,135.0 L318.1,134.4 L318.6,134.6 L319.1,134.7 L319.6,135.0 L320.1,135.0 L320.6,134.9 L321.1,134.6 L321.6,134.6 L322.1,134.5 L322.6,135.2 L323.1,135.0 L323.6,135.1 L324.1,134.5 L324.6,134.8 L325.1,135.1 L325.6,135.0 L326.1,134.5 L326.6,134.9 L327.1,135.3 L327.6,134.7 L328.1,134.6 L328.6,134.8 L329.1,135.2 L329.6,135.3 L330.1,134.6 L330.6,134.6 L331.1,134.7 L331.6,134.8 L332.1,135.0 L332.6,134.7 L333.1,134.9 L333.6,134.7 L334.1,135.5 L334.6,135.3 L335.1,134.7 L335.6,135.5 L336.1,134.7 L336.6,135.0 L337.1,135.6 L337.6,135.4 L338.1,135.4 L338.6,135.1 L339.1,134.8 L339.6,135.3 L340.1,134.8 L340.6,134.9 L341.1,135.1 L341.6,134.7 L342.1,135.1 L342.6,135.5 L343.1,135.4 L343.6,135.2 L344.1,135.4 L344.6,135.2 L345.1,134.9 L345.6,135.4 L346.1,135.2 L346.6,135.5 L347.1,135.7 L347.6,135.2 L348.1,135.4 L348.6,135.6 L349.1,135.2 L349.6,135.1 L350.1,135.6 L350.6,135.7 L351.1,135.6 L351.6,135.6 L352.1,135.7 L352.6,135.6 L353.1,135.5 L353.6,135.3 L354.1,135.2 L354.6,135.5 L355.1,135.0 L355.6,135.3 L356.1,135.7 L356.6,135.7 L357.1,135.6 L357.6,135.2 L358.1,135.4 L358.6,135.4 L359.1,135.6 L359.6,135.4 L360.1,135.7 L360.6,135.9 L361.1,135.2 L361.6,135.7 L362.1,135.8 L362.6,135.4 L363.1,135.5 L363.6,136.0 L364.1,135.1 L364.6,135.6 L365.1,135.2 L365.6,135.9 L366.1,136.0 L366.6,135.6 L367.1,135.2 L367.6,135.7 L368.1,135.7 L368.6,135.9 L369.1,135.7 L369.6,135.8 L370.1,136.0 L370.6,135.7 L371.1,135.6 L371.6,136.1" stroke="#00f"/>
<path d="M25.6,77.0 L26.1,76.8 L26.6,77.3 L27.1,76.8 L27.6,77.2 L28.1,77.1 L28.6,76.8 L29.1,77.2 L29.6,76.8 L30.1,77.2 L30.6,76.8 L31.1,76.8 L31.6,77.2 L32.1,77.6 L32.6,76.9 L33.1,77.0 L33.6,77.4 L34.1,77.7 L34.6,77.4 L35.1,77.2 L35.6,77.8 L36.1,76.8 L36.6,77.7 L37.1,77.1 L37.6,77.0 L38.1,76.9 L38.6,77.1 L39.1,77.6 L39.6,77.0 L40.1,77.4 L40.6,77.5 L41.1,77.2 L41.6,77.4 L42.1,76.9 L42.6,76.9 L43.1,77.1 L43.6,77.6 L44.1,77.3 L44.6,77.2 L45.1,77.5 L45.6,77.3 L46.1,77.2 L46.6,77.7 L47.1,77.6 L47.6,77.2 L48.1,77.5 L48.6,77.4 L49.1,77.8 L49.6,77.7 L50.1,77.2 L50.6,77.9 L51.1,77.1 L51.6,77.4 L52.1,77.7 L52.6,77.1 L53.1,77.5 L53.6,77.0 L54.1,77.6 L54.6,77.7 L55.1,77.6 L55.6,77.9 L56.1,77.3 L56.6,77.7 L57.1,77.6 L57.6,77.6 L58.1,77.5 L58.6,77.9 L59.1,78.0 L59.6,77.5 L60.1,77.7 L60.6,77.1 L61.1,77.7 L61.6,77.7 L62.1,78.0 L62.6,77.9 L63.1,77.4 L63.6,77.5 L64.1,77.7 L64.6,77.1 L65.1,77.5 L65.6,77.3 L66.1,77.2 L66.6,77.2 L67.1,77.9 L67.6,77.2 L68.1,77.4 L68.6,77.5 L69.1,78.0 L69.6,77.2 L70.1,77.6 L70.6,77.7 L71.1,78.0 L71.6,78.0 L72.1,78.0 L72.6,77.4 L73.1,77.6 L73.6,77.5 L74.1,78.0 L74.6,78.1 L75.1,77.3 L75.6,77.3 L76.1,77.4 L76.6,77.4 L77.1,77.7 L77.6,77.8 L78.1,77.4 L78.6,77.2 L79.1,77.6 L79.6,77.5 L80.1,77.7 L80.6,78.1 L81.1,77.9 L81.6,77.7 L82.1,77.8 L82.6,77.9 L83.1,77.2 L83.6,78.1 L84.1,77.9 L84.6,78.0 L85.1,77.9 L85.6,77.5 L86.1,77.5 L86.6,77.2 L87.1,77.7 L87.6,77.1 L88.1,77.1 L88.6,77.2 L89.1,77.1 L89.6,77.3 L90.1,76.9 L90.6,76.8 L91.1,76.8 L91.6,76.7 L92.1,76.8 L92.6,76.2 L93.1,76.7 L93.6,76.0 L94.1,74.9 L94.6,74.1 L95.1,72.9 L95.6,71.4 L96.1,69.8 L96.6,70.4 L97.1,71.7 L97.6,72.8 L98.1,74.1 L98.6,74.7 L99.1,75.4 L99.6,76.2 L100.1,76.4 L100.6,77.2 L101.1,76.8 L101.6,76.8 L102.1,77.8 L102.6,77.5 L103.1,77.1 L103.6,77.6 L104.1,77.1 L104.6,77.7 L105.1,78.1 L105.6,78.0 L106.1,77.9 L106.6,77.5 L107.1,77.6 L107.6,77.4 L108.1,78.0 L108.6,77.8 L109.1,78.0 L109.6,77.6 L110.1,77.5 L110.6,78.1 L111.1,78.3 L111.6,78.1 L112.1,78.1 L112.6,78.1 L113.1,78.0 L113.6,77.5 L114.1,77.8 L114.6,77.6 L115.1,77.3 L115.6,77.3 L116.1,77.5 L116.6,77.5 L117.1,77.9 L117.6,78.1 L118.1,77.6 L118.6,78.1 L119.1,78.1 L119.6,78.0 L120.1,77.4 L120.6,77.2 L121.1,77.2 L121.6,77.1 L122.1,77.1 L122.6,77.5 L123.1,77.7 L123.6,77.5 L124.1,77.0 L124.6,77.1 L125.1,77.1 L125.6,76.2 L126.1,76.6 L126.6,76.5 L127.1,76.1 L127.6,75.6 L128.1,74.7 L128.6,73.5 L129.1,72.9 L129.6,70.8 L130.1,68.6 L130.6,64.8 L131.1,58.1 L131.6,50.0 L132.1,43.7 L132.6,44.4 L133.1,51.4 L133.6,59.2 L134.1,64.9 L134.6,69.3 L135.1,71.6 L135.6,72.6 L136.1,74.4 L136.6,75.3 L137.1,75.6 L137.6,75.7 L138.1,76.3 L138.6,76.1 L139.1,76.2 L139.6,77.3 L140.1,77.2 L140.6,77.1 L141.1,77.7 L141.6,77.2 L142.1,77.7 L142.6,77.8 L143.1,77.2 L143.6,77.3 L144.1,77.4 L144.6,77.4 L145.1,77.7 L145.6,77.4 L146.1,77.6 L146.6,77.3 L147.1,78.1 L147.6,77.6 L148.1,77.7 L148.6,77.9 L149.1,78.2 L149.6,77.7 L150.1,78.2 L150.6,77.8 L151.1,77.9 L151.6,77.8 L152.1,77.3 L152.6,77.8 L153.1,77.5 L153.6,77.3 L154.1,78.1 L154.6,77.5 L155.1,77.8 L155.6,78.0 L156.1,77.8 L156.6,77.6 L157.1,77.7 L157.6,77.7 L158.1,77.9 L158.6,77.1 L159.1,77.4 L159.6,76.9 L160.1,76.7 L160.6,76.8 L161.1,76.0 L161.6,75.4 L162.1,75.0 L162.6,74.9 L163.1,74.9 L163.6,75.7 L164.1,76.3 L164.6,76.7 L165.1,77.2 L165.6,77.2 L166.1,77.5 L166.6,77.5 L167.1,78.1 L167.6,77.9 L168.1,78.1 L168.6,78.2 L169.1,77.6 L169.6,77.9 L170.1,78.3 L170.6,78.2 L171.1,77.5 L171.6,77.5 L172.1,77.8 L172.6,77.4 L173.1,77.6 L173.6,77.4 L174.1,78.0 L174.6,78.1 L175.1,78.1 L175.6,77.4 L176.1,77.9 L176.6,77.8 L177.1,77.2 L177.6,77.8 L178.1,77.7 L178.6,76.7 L179.1,77.1 L179.6,76.1 L180.1,75.6 L180.6,75.2 L181.1,74.0 L181.6,72.7 L182.1,73.3 L182.6,74.3 L183.1,75.1 L183.6,75.7 L184.1,76.4 L184.6,77.1 L185.1,76.7 L185.6,77.4 L186.1,77.4 L186.6,77.1 L187.1,77.5 L187.6,77.8 L188.1,77.8 L188.6,77.4 L189.1,78.3 L189.6,78.1 L190.1,78.3 L190.6,77.5 L191.1,77.6 L191.6,77.4 L192.1,78.2 L192.6,77.6 L193.1,77.5 L193.6,77.8 L194.1,78.2 L194.6,78.1 L195.1,77.5 L195.6,77.4 L196.1,78.1 L196.6,77.6 L197.1,77.6 L197.6,76.8 L198.1,76.6 L198.6,76.8 L199.1,76.0 L199.6,75.0 L200.1,75.0 L200.6,74.3 L201.1,74.7 L201.6,74.7 L202.1,76.2 L202.6,76.0 L203.1,77.3 L203.6,77.2 L204.1,77.3 L204.6,77.6 L205.1,78.1 L205.6,77.6 L206.1,77.5 L206.6,77.9 L207.1,77.7 L207.6,77.6 L208.1,77.7 L208.6,77.6 L209.1,77.8 L209.6,77.9 L210.1,77.9 L210.6,78.4 L211.1,77.9 L211.6,78.1 L212.1,77.8 L212.6,78.0 L213.1,77.7 L213.6,77.9 L214.1,77.7 L214.6,78.4 L215.1,78.2 L215.6,77.9 L216.1,78.1 L216.6,78.6 L217.1,77.8 L217.6,78.5 L218.1,78.1 L218.6,78.1 L219.1,78.4 L219.6,77.9 L220.1,78.0 L220.6,78.1 L221.1,78.3 L221.6,77.6 L222.1,77.9 L222.6,77.5 L223.1,77.1 L223.6,76.6 L224.1,76.5 L224.6,76.4 L225.1,76.7 L225.6,76.9 L226.1,77.7 L226.6,77.2 L227.1,77.1 L227.6,77.0 L228.1,77.6 L228.6,77.5 L229.1,77.0 L229.6,76.3 L230.1,75.7 L230.6,74.9 L231.1,73.9 L231.6,72.0 L232.1,70.4 L232.6,68.9 L233.1,69.8 L233.6,71.4 L234.1,72.8 L234.6,74.1 L235.1,75.9 L235.6,76.0 L236.1,76.6 L236.6,76.6 L237.1,77.3 L237.6,77.6 L238.1,77.8 L238.6,77.6 L239.1,78.0 L239.6,77.6 L240.1,77.9 L240.6,77.8 L241.1,78.2 L241.6,77.9 L242.1,77.9 L242.6,78.2 L243.1,78.2 L243.6,78.5 L244.1,78.5 L244.6,78.7 L245.1,78.7 L245.6,78.7 L246.1,78.9 L246.6,78.4 L247.1,78.4 L247.6,79.1 L248.1,78.2 L248.6,78.8 L249.1,78.8 L249.6,78.2 L250.1,79.0 L250.6,79.0 L251.1,78.8 L251.6,78.9 L252.1,79.0 L252.6,78.3 L253.1,78.7 L253.6,78.7 L254.1,79.0 L254.6,79.0 L255.1,79.0 L255.6,78.8 L256.1,79.1 L256.6,78.9 L257.1,78.9 L257.6,78.5 L258.1,78.3 L258.6,78.4 L259.1,78.6 L259.6,78.4 L260.1,79.1 L260.6,78.8 L261.1,78.9 L261.6,78.9 L262.1,79.0 L262.6,78.8 L263.1,78.3 L263.6,79.1 L264.1,79.1 L264.6,78.8 L265.1,78.8 L265.6,79.0 L266.1,78.4 L266.6,79.0 L267.1,78.5 L267.6,78.4 L268.1,78.5 L268.6,79.0 L269.1,78.4 L269.6,78.9 L270.1,79.1 L270.6,78.6 L271.1,78.4 L271.6,78.4 L272.1,78.6 L272.6,78.5 L273.1,78.3 L273.6,78.2 L274.1,77.6 L274.6,77.6 L275.1,77.8 L275.6,78.4 L276.1,78.1 L276.6,78.5 L277.1,78.1 L277.6,78.2 L278.1,78.5 L278.6,78.9 L279.1,79.0 L279.6,79.0 L280.1,78.6 L280.6,78.9 L281.1,78.9 L281.6,78.9 L282.1,78.6 L282.6,79.3 L283.1,78.7 L283.6,79.4 L284.1,79.4 L284.6,78.5 L285.1,78.9 L285.6,79.3 L286.1,79.4 L286.6,78.9 L287.1,78.7 L287.6,78.6 L288.1,79.3 L288.6,78.6 L289.1,78.9 L289.6,78.4 L290.1,78.7 L290.6,79.0 L291.1,78.1 L291.6,78.7 L292.1,78.3 L292.6,78.6 L293.1,78.4 L293.6,78.1 L294.1,78.9 L294.6,78.6 L295.1,78.2 L295.6,78.3 L296.1,78.9 L296.6,78.9 L297.1,78.9 L297.6,78.8 L298.1,79.0 L298.6,79.0 L299.1,79.6 L299.6,78.8 L300.1,79.5 L300.6,79.6 L301.1,78.9 L301.6,79.8 L302.1,79.6 L302.6,79.8 L303.1,79.2 L303.6,79.3 L304.1,79.3 L304.6,79.9 L305.1,79.5 L305.6,79.3 L306.1,79.3 L306.6,79.2 L307.1,78.9 L307.6,79.0 L308.1,79.7 L308.6,79.1 L309.1,79.7 L309.6,78.9 L310.1,78.9 L310.6,79.1 L311.1,78.7 L311.6,78.9 L312.1,79.5 L312.6,79.5 L313.1,79.5 L313.6,79.5 L314.1,79.8 L314.6,79.9 L315.1,79.6 L315.6,79.8 L316.1,79.2 L316.6,79.9 L317.1,79.7 L317.6,80.0 L318.1,79.9 L318.6,79.6 L319.1,79.4 L319.6,80.3 L320.1,79.5 L320.6,79.8 L321.1,79.7 L321.6,79.7 L322.1,80.2 L322.6,80.4 L323.1,79.7 L323.6,80.1 L324.1,79.8 L324.6,80.1 L325.1,79.9 L325.6,79.7 L326.1,79.7 L326.6,79.8 L327.1,80.5 L327.6,80.1 L328.1,79.8 L328.6,80.5 L329.1,80.6 L329.6,80.1 L330.1,79.8 L330.6,79.9 L331.1,79.8 L331.6,80.0 L332.1,79.8 L332.6,80.0 L333.1,80.0 L333.6,80.3 L334.1,80.6 L334.6,80.5 L335.1,80.2 L335.6,80.2 L336.1,80.3 L336.6,80.2 L337.1,80.2 L337.6,79.9 L338.1,80.1 L338.6,80.8 L339.1,80.0 L339.6,80.4 L340.1,80.5 L340.6,80.8 L341.1,80.2 L341.6,80.2 L342.1,80.2 L342.6,80.4 L343.1,80.4 L343.6,81.0 L344.1,80.9 L344.6,80.9 L345.1,80.1 L345.6,80.1 L346.1,80.8 L346.6,81.0 L347.1,80.6 L347.6,80.7 L348.1,80.1 L348.6,80.5 L349.1,81.1 L349.6,81.0 L350.1,81.0 L350.6,81.1 L351.1,80.4 L351.6,80.3 L352.1,80.4 L352.6,80.7 L353.1,80.9 L353.6,81.2 L354.1,81.0 L354.6,80.9 L355.1,81.0 L355.6,80.8 L356.1,80.9 L356.6,80.4 L357.1,81.1 L357.6,80.6 L358.1,81.3 L358.6,81.0 L359.1,80.7 L359.6,80.5 L360.1,80.7 L360.6,81.1 L361.1,81.1 L361.6,80.6 L362.1,80.5 L362.6,81.0 L363.1,81.1 L363.6,80.9 L364.1,80.7 L364.6,81.1 L365.1,80.5 L365.6,80.8 L366.1,81.0 L366.6,81.5 L367.1,81.2 L367.6,81.5 L368.1,81.1 L368.6,80.8 L369.1,80.9 L369.6,81.6 L370.1,81.4 L370.6,81.0 L371.1,80.7 L371.6,81.2" stroke="#0f0"/>
</g>
<rect x="25.6" y="1.6" width="346.6" height="280.7" fill="none" stroke="#000" stroke-width="2" stroke-linejoin="round"/>
<path d="M25.4,282.3 V287.7 M50.2,282.3 V285.8 M75.0,282.3 V287.7 M99.7,282.3 V285.8 M124.5,282.3 V287.7 M149.2,282.3 V285.8 M174.0,282.3 V287.7 M198.8,282.3 V285.8 M223.5,282.3 V287.7 M248.3,282.3 V285.8 M273.1,282.3 V287.7 M297.8,282.3 V285.8 M322.6,282.3 V287.7 M347.3,282.3 V285.8 M372.1,282.3 V287.7" stroke="#000" stroke-width="1.7"/>
<text x="25.8" y="302.4" text-anchor="middle" style="font-family:'Liberation Serif',serif;font-weight:bold;font-size:14.5px">10</text>
<text x="75.3" y="302.4" text-anchor="middle" style="font-family:'Liberation Serif',serif;font-weight:bold;font-size:14.5px">20</text>
<text x="124.8" y="302.4" text-anchor="middle" style="font-family:'Liberation Serif',serif;font-weight:bold;font-size:14.5px">30</text>
<text x="174.3" y="302.4" text-anchor="middle" style="font-family:'Liberation Serif',serif;font-weight:bold;font-size:14.5px">40</text>
<text x="223.8" y="302.4" text-anchor="middle" style="font-family:'Liberation Serif',serif;font-weight:bold;font-size:14.5px">50</text>
<text x="273.4" y="302.4" text-anchor="middle" style="font-family:'Liberation Serif',serif;font-weight:bold;font-size:14.5px">60</text>
<text x="322.9" y="302.4" text-anchor="middle" style="font-family:'Liberation Serif',serif;font-weight:bold;font-size:14.5px">70</text>
<text x="372.4" y="302.4" text-anchor="middle" style="font-family:'Liberation Serif',serif;font-weight:bold;font-size:14.5px">80</text>
<text x="199" y="316.2" text-anchor="middle" style="font-family:'Liberation Serif',serif;font-weight:bold;font-size:15px">2θ (degree)</text>
<text transform="translate(11.3,151.5) rotate(-90)" text-anchor="middle" style="font-family:'Liberation Serif',serif;font-weight:bold;font-size:16px">Intensity (a.u.)</text>
<text x="31.6" y="22.8" style="font-family:'Liberation Sans',sans-serif;font-size:16.5px;letter-spacing:-0.4px" fill="#1c74c6" stroke="#1c74c6" stroke-width="0.15">(a)</text>
<text transform="translate(99.05,51.75) rotate(-90)" text-anchor="middle" style="font-family:'Liberation Serif',serif;font-weight:bold;font-size:14px">(012)</text>
<text transform="translate(134.70,25.6) rotate(-90)" text-anchor="middle" style="font-family:'Liberation Serif',serif;font-weight:bold;font-size:14px">(104)</text>
<text transform="translate(164.70,57) rotate(-90)" text-anchor="middle" style="font-family:'Liberation Serif',serif;font-weight:bold;font-size:14px">(110)</text>
<text transform="translate(184.10,56.6) rotate(-90)" text-anchor="middle" style="font-family:'Liberation Serif',serif;font-weight:bold;font-size:14px">(113)</text>
<text transform="translate(205.10,55.3) rotate(-90)" text-anchor="middle" style="font-family:'Liberation Serif',serif;font-weight:bold;font-size:14px">(202)</text>
<text transform="translate(224.10,57.9) rotate(-90)" text-anchor="middle" style="font-family:'Liberation Serif',serif;font-weight:bold;font-size:14px">(018)</text>
<text transform="translate(239.30,46.3) rotate(-90)" text-anchor="middle" style="font-family:'Liberation Serif',serif;font-weight:bold;font-size:14px">(116)</text>
<text transform="translate(277.90,59.5) rotate(-90)" text-anchor="middle" style="font-family:'Liberation Serif',serif;font-weight:bold;font-size:14px">(122)</text>
<text transform="translate(296.00,58.9) rotate(-90)" text-anchor="middle" style="font-family:'Liberation Serif',serif;font-weight:bold;font-size:14px">(300)</text>
<path d="M236.4,20.7 H265.4" stroke="#0f0" stroke-width="1.8"/>
<text x="268.2" y="24.0" style="font-family:'Liberation Serif',serif;font-weight:bold"><tspan style="font-size:14px" dy="0">Mn</tspan><tspan style="font-size:9px;font-weight:normal" dy="5.6">0.70</tspan><tspan style="font-size:14px" dy="-5.6">Ni</tspan><tspan style="font-size:9px;font-weight:normal" dy="5.6">0.30</tspan><tspan style="font-size:14px" dy="-5.6">CO</tspan><tspan style="font-size:9px;font-weight:normal" dy="5.6">3</tspan></text>
<path d="M235,107.2 H264" stroke="#00f" stroke-width="1.8"/>
<text x="267.1" y="111.4" style="font-family:'Liberation Serif',serif;font-weight:bold"><tspan style="font-size:14px" dy="0">Mn</tspan><tspan style="font-size:9px;font-weight:normal" dy="5.6">0.75</tspan><tspan style="font-size:14px" dy="-5.6">Ni</tspan><tspan style="font-size:9px;font-weight:normal" dy="5.6">0.25</tspan><tspan style="font-size:14px" dy="-5.6">CO</tspan><tspan style="font-size:9px;font-weight:normal" dy="5.6">3</tspan></text>
<path d="M235,164.2 H264" stroke="#f00" stroke-width="1.8"/>
<text x="267.1" y="167.4" style="font-family:'Liberation Serif',serif;font-weight:bold"><tspan style="font-size:14px" dy="0">Mn</tspan><tspan style="font-size:9px;font-weight:normal" dy="5.6">0.80</tspan><tspan style="font-size:14px" dy="-5.6">Ni</tspan><tspan style="font-size:9px;font-weight:normal" dy="5.6">0.20</tspan><tspan style="font-size:14px" dy="-5.6">CO</tspan><tspan style="font-size:9px;font-weight:normal" dy="5.6">3</tspan></text>
<path d="M282.6,239.5 H312.1" stroke="#000" stroke-width="1.8"/>
<text x="313.4" y="244.5" style="font-family:'Liberation Serif',serif;font-weight:bold"><tspan style="font-size:14px" dy="0">MnCO</tspan><tspan style="font-size:9px;font-weight:normal" dy="5.6">3</tspan></text>
<rect x="25.3" y="355.5" width="347" height="281" fill="none" stroke="#000" stroke-width="2.1" stroke-linejoin="round"/>
<g clip-path="url(#cb)" fill="none" stroke-width="2.6" stroke-linejoin="round" stroke-linecap="round">
<path d="M25.5,521.9 C26.7,521.5 29.6,520.4 32.6,519.5 C35.6,518.6 40.5,517.1 43.7,516.3 C46.9,515.5 49.2,514.9 51.6,514.7 C54.0,514.5 56.0,514.7 57.9,515.2 C59.8,515.7 61.1,516.7 62.7,517.9 C64.3,519.1 65.6,521.1 67.4,522.6 C69.2,524.1 71.6,525.6 73.7,526.6 C75.8,527.6 78.2,529.0 80.1,528.9 C82.0,528.8 83.3,527.5 85.0,526.0 C86.7,524.5 88.3,521.7 90.0,520.1 C91.7,518.5 92.5,517.7 95.0,516.6 C97.5,515.5 101.7,514.7 105.0,513.7 C108.3,512.7 112.4,511.5 115.0,510.7 C117.6,509.9 118.0,509.1 120.5,508.8 C123.0,508.5 126.8,509.1 130.0,508.8 C133.2,508.5 136.7,507.1 140.0,506.8 C143.3,506.5 145.6,506.7 150.0,507.1 C154.4,507.6 159.2,508.4 166.3,509.5 C173.4,510.6 183.8,511.9 192.6,513.4 C201.4,514.9 211.9,516.9 219.0,518.2 C226.1,519.5 230.7,520.2 235.0,521.1 C239.3,522.0 242.4,522.4 245.0,523.4 C247.6,524.4 248.8,527.0 250.8,527.3 C252.8,527.6 254.6,525.7 257.0,525.2 C259.4,524.7 260.7,524.3 265.0,524.2 C269.3,524.1 278.4,524.8 282.6,524.8 C286.8,524.8 287.1,524.4 290.0,524.0 C292.9,523.6 297.5,522.3 300.0,522.2 C302.5,522.1 303.4,522.9 305.0,523.2 C306.6,523.5 307.8,524.4 309.5,524.2 C311.2,524.0 313.2,522.9 315.0,522.0 C316.8,521.1 318.2,519.9 320.0,519.1 C321.8,518.3 323.2,517.8 325.5,517.3 C327.8,516.8 331.4,516.2 333.8,516.2 C336.2,516.2 338.3,516.8 340.0,517.5 C341.7,518.2 342.9,518.9 343.9,520.4 C344.8,521.9 345.2,524.8 345.7,526.4 C346.2,528.0 346.4,527.1 347.0,530.0 C347.6,532.9 348.3,537.8 349.0,543.8 C349.7,549.8 350.6,558.9 351.2,565.7 C351.8,572.5 351.9,579.4 352.6,584.7 C353.3,590.0 354.5,595.6 355.2,597.5 C355.9,599.4 356.4,596.9 357.0,596.0 C357.6,595.1 358.3,592.9 359.0,592.0 C359.7,591.1 360.3,589.7 361.1,590.4 C361.9,591.1 362.8,593.8 363.6,596.0 C364.4,598.2 365.5,603.5 366.1,603.5 C366.7,603.5 366.8,599.6 367.1,596.0 C367.4,592.4 367.5,586.7 367.7,582.0 C367.9,577.3 368.0,572.3 368.2,568.0 C368.4,563.7 368.7,560.7 368.9,556.0 C369.1,551.3 369.3,545.2 369.5,540.0 C369.7,534.8 369.8,529.8 369.9,525.0 C370.0,520.2 370.1,513.3 370.1,511.0" stroke="#000"/>
<path d="M370.9,511 V575" stroke="#000" stroke-width="1.3"/>
<path d="M25.5,391.0 C27.9,390.7 34.2,389.6 40.0,389.2 C45.8,388.8 55.0,388.3 60.0,388.4 C65.0,388.5 66.6,389.3 70.0,390.0 C73.4,390.7 77.2,392.3 80.5,392.4 C83.8,392.5 86.8,391.2 90.0,390.5 C93.2,389.8 96.7,388.6 100.0,387.9 C103.3,387.2 106.7,386.7 110.0,386.3 C113.3,385.9 117.5,385.6 120.0,385.5 C122.5,385.4 123.7,385.5 125.0,385.7 C126.3,385.9 126.9,386.9 127.9,386.9 C128.9,386.9 129.5,386.0 131.0,385.6 C132.5,385.2 130.5,384.8 137.0,384.7 C143.5,384.6 161.2,385.0 170.0,385.3 C178.8,385.6 185.0,385.9 190.0,386.3 C195.0,386.7 196.7,387.2 200.0,387.6 C203.3,388.0 205.0,388.0 210.0,388.6 C215.0,389.2 224.2,390.4 230.0,391.0 C235.8,391.6 241.2,391.8 245.0,392.2 C248.8,392.6 250.1,393.4 252.6,393.4 C255.1,393.4 257.1,392.4 260.0,392.0 C262.9,391.6 265.0,391.2 270.0,391.0 C275.0,390.8 285.0,390.9 290.0,390.8 C295.0,390.7 296.1,390.5 300.0,390.3 C303.9,390.1 308.2,390.0 313.7,389.6 C319.1,389.2 328.1,388.0 332.7,388.0 C337.2,388.0 338.9,388.8 341.0,389.6 C343.1,390.4 344.4,391.4 345.5,393.0 C346.6,394.6 346.8,396.5 347.5,399.0 C348.2,401.5 348.8,403.8 349.5,408.0 C350.2,412.2 351.2,420.0 352.0,424.0 C352.8,428.0 353.4,430.0 354.0,432.0 C354.6,434.0 354.7,435.2 355.5,436.0 C356.3,436.8 357.8,437.0 358.7,437.0 C359.6,437.0 360.0,435.4 361.0,436.0 C362.0,436.6 363.6,438.9 364.6,440.6 C365.6,442.3 366.2,447.4 366.8,446.0 C367.4,444.6 368.0,439.7 368.4,432.0 C368.8,424.3 368.9,410.3 369.2,400.0 C369.5,389.7 369.7,378.3 370.0,370.0 C370.3,361.7 370.7,353.3 370.8,350.0" stroke="#0f0"/>
<path d="M371.5,350 V475.5" stroke="#0f0"/>
<path d="M25.5,490.3 C27.2,489.9 32.3,488.3 35.8,487.6 C39.3,486.9 42.8,486.6 46.3,486.3 C49.8,486.0 53.9,485.1 56.8,485.8 C59.6,486.5 61.2,488.5 63.4,490.3 C65.6,492.1 67.6,495.0 70.0,496.8 C72.4,498.6 75.5,500.9 77.9,501.3 C80.3,501.8 82.3,501.1 84.5,499.5 C86.7,497.9 88.6,493.5 91.0,491.6 C93.4,489.8 95.9,489.6 99.0,488.4 C102.1,487.2 105.9,485.2 109.5,484.2 C113.1,483.2 117.9,482.7 120.5,482.4 C123.1,482.1 123.8,482.4 125.0,482.6 C126.2,482.8 126.9,483.8 127.9,483.8 C128.9,483.8 129.2,482.9 131.0,482.5 C132.8,482.1 134.6,481.1 139.0,481.1 C143.4,481.1 151.3,481.9 157.4,482.4 C163.5,482.9 170.5,483.7 175.8,484.2 C181.1,484.7 185.0,485.1 189.0,485.5 C193.0,485.9 195.5,485.7 200.0,486.3 C204.5,486.9 209.2,487.8 215.8,488.9 C222.4,490.0 234.6,491.9 239.5,492.9 C244.4,493.9 243.2,493.9 245.0,495.0 C246.8,496.1 248.5,499.2 250.0,499.5 C251.5,499.8 252.7,497.3 254.0,496.5 C255.3,495.7 253.7,495.2 257.9,494.7 C262.1,494.2 273.6,493.9 279.0,493.7 C284.4,493.4 285.8,493.5 290.0,493.2 C294.2,492.9 300.6,492.8 304.2,492.0 C307.8,491.2 307.8,489.6 311.3,488.4 C314.9,487.2 321.1,485.7 325.5,484.9 C329.9,484.1 334.2,483.7 337.4,483.7 C340.6,483.7 342.9,484.2 344.5,484.9 C346.1,485.6 346.3,486.6 347.0,488.0 C347.7,489.4 347.9,490.2 348.5,493.0 C349.1,495.8 349.7,500.6 350.4,505.0 C351.1,509.4 352.1,515.7 352.8,519.2 C353.5,522.7 353.9,524.2 354.5,526.0 C355.1,527.8 355.7,529.7 356.4,529.9 C357.1,530.1 357.9,528.1 358.5,527.0 C359.1,525.9 359.5,524.1 360.0,523.0 C360.5,521.9 360.9,520.8 361.5,520.5 C362.1,520.2 362.7,521.5 363.5,521.5 C364.3,521.5 365.7,523.5 366.3,520.8 C366.9,518.0 367.1,511.8 367.4,505.0 C367.6,498.2 367.6,488.3 367.8,480.0 C368.0,471.7 368.3,462.1 368.5,455.0 C368.7,447.9 369.1,440.4 369.2,437.5" stroke="#f00"/>
<path d="M25.5,440.5 C27.2,440.3 32.3,439.6 35.8,439.2 C39.3,438.8 42.3,438.4 46.3,438.2 C50.2,438.0 55.8,437.6 59.5,438.2 C63.2,438.8 65.6,440.7 68.7,441.8 C71.8,442.9 75.3,444.4 77.9,444.7 C80.5,445.0 82.3,444.6 84.5,443.9 C86.7,443.2 87.7,441.6 91.0,440.5 C94.3,439.4 100.7,438.2 104.2,437.4 C107.7,436.6 109.4,435.9 112.1,435.5 C114.8,435.1 118.3,434.8 120.5,434.7 C122.7,434.6 123.8,434.8 125.0,435.2 C126.2,435.6 127.1,437.2 127.9,437.4 C128.7,437.6 129.2,436.4 130.0,436.2 C130.8,436.0 131.7,436.0 132.4,436.0 C133.1,436.0 132.9,436.5 134.0,436.3 C135.1,436.1 136.0,435.0 139.0,434.7 C142.0,434.4 145.5,434.5 152.1,434.7 C158.7,434.9 170.5,435.5 178.4,436.0 C186.3,436.5 194.2,437.5 199.5,437.9 C204.8,438.3 205.5,437.9 210.0,438.2 C214.5,438.5 220.5,439.0 226.3,439.5 C232.1,440.0 240.5,440.6 244.7,441.3 C248.9,442.0 248.7,443.9 251.3,443.9 C253.9,443.9 255.9,441.7 260.5,441.3 C265.1,440.9 274.1,441.3 279.0,441.3 C283.9,441.3 285.8,441.5 290.0,441.5 C294.2,441.5 299.9,441.6 304.2,441.1 C308.5,440.6 311.2,439.3 316.0,438.7 C320.8,438.1 327.9,437.5 332.7,437.5 C337.4,437.5 342.0,437.9 344.5,438.7 C347.0,439.4 346.7,440.8 347.5,442.0 C348.3,443.2 348.4,443.4 349.2,446.0 C350.0,448.6 351.3,454.8 352.1,457.7 C352.9,460.6 353.1,462.2 354.0,463.6 C354.9,465.0 356.3,465.8 357.5,466.0 C358.7,466.2 360.1,464.8 361.1,464.8 C362.1,464.8 362.7,464.9 363.5,466.0 C364.3,467.1 365.1,471.5 365.8,471.5 C366.5,471.5 367.0,468.8 367.5,466.0 C368.0,463.2 368.2,457.7 368.6,455.0 C369.0,452.3 369.4,449.5 369.8,450.0 C370.2,450.5 370.8,454.7 371.0,458.0 C371.2,461.3 371.2,468.0 371.2,470.0" stroke="#00f"/>
</g>
<path d="M25.4,636.5 V642.4 M49.1,636.5 V640.2 M72.8,636.5 V642.4 M96.5,636.5 V640.2 M120.2,636.5 V642.4 M143.9,636.5 V640.2 M167.6,636.5 V642.4 M191.2,636.5 V640.2 M214.9,636.5 V642.4 M238.6,636.5 V640.2 M262.3,636.5 V642.4 M286.0,636.5 V640.2 M309.7,636.5 V642.4 M333.4,636.5 V640.2 M357.1,636.5 V642.4" stroke="#000" stroke-width="1.7"/>
<text x="25.8" y="656.6" text-anchor="middle" style="font-family:'Liberation Serif',serif;font-weight:bold;font-size:14.4px">4000</text>
<text x="73.2" y="656.6" text-anchor="middle" style="font-family:'Liberation Serif',serif;font-weight:bold;font-size:14.4px">3500</text>
<text x="120.6" y="656.6" text-anchor="middle" style="font-family:'Liberation Serif',serif;font-weight:bold;font-size:14.4px">3000</text>
<text x="168.0" y="656.6" text-anchor="middle" style="font-family:'Liberation Serif',serif;font-weight:bold;font-size:14.4px">2500</text>
<text x="215.3" y="656.6" text-anchor="middle" style="font-family:'Liberation Serif',serif;font-weight:bold;font-size:14.4px">2000</text>
<text x="262.7" y="656.6" text-anchor="middle" style="font-family:'Liberation Serif',serif;font-weight:bold;font-size:14.4px">1500</text>
<text x="310.1" y="656.6" text-anchor="middle" style="font-family:'Liberation Serif',serif;font-weight:bold;font-size:14.4px">1000</text>
<text x="357.5" y="656.6" text-anchor="middle" style="font-family:'Liberation Serif',serif;font-weight:bold;font-size:14.4px">500</text>
<text x="131.8" y="681.6" style="font-family:'Liberation Serif',serif;font-weight:bold;font-size:15px"><tspan style="letter-spacing:0.5px">Wavenumber</tspan><tspan dx="-0.5"> (cm</tspan><tspan style="font-size:9px" dy="-6.5">-1</tspan><tspan dy="6.5" dx="0.3">)</tspan></text>
<text transform="translate(14.2,485.9) rotate(-90)" text-anchor="middle" style="font-family:'Liberation Serif',serif;font-weight:bold;font-size:15.9px">Transmittence (%)</text>
<text x="32.9" y="375.9" style="font-family:'Liberation Sans',sans-serif;font-size:16.5px;letter-spacing:0.3px" fill="#1c74c6" stroke="#1c74c6" stroke-width="0.15">(b)</text>
<path d="M189.5,371.7 H217.9" stroke="#0f0" stroke-width="1.8"/>
<text x="221" y="375.8" style="font-family:'Liberation Serif',serif;font-weight:bold"><tspan style="font-size:14px" dy="0">Mn</tspan><tspan style="font-size:9px;font-weight:normal" dy="5.6">0.70</tspan><tspan style="font-size:14px" dy="-5.6">Ni</tspan><tspan style="font-size:9px;font-weight:normal" dy="5.6">0.20</tspan><tspan style="font-size:14px" dy="-5.6">CO</tspan><tspan style="font-size:9px;font-weight:normal" dy="5.6">3</tspan></text>
<path d="M215.1,422 H244.2" stroke="#00f" stroke-width="1.8"/>
<text x="246.6" y="427.1" style="font-family:'Liberation Serif',serif;font-weight:bold"><tspan style="font-size:14px" dy="0">Mn</tspan><tspan style="font-size:9px;font-weight:normal" dy="5.6">0.75</tspan><tspan style="font-size:14px" dy="-5.6">Ni</tspan><tspan style="font-size:9px;font-weight:normal" dy="5.6">0.25</tspan><tspan style="font-size:14px" dy="-5.6">CO</tspan><tspan style="font-size:9px;font-weight:normal" dy="5.6">3</tspan></text>
<path d="M216.8,469.7 H244.2" stroke="#f00" stroke-width="1.8"/>
<text x="246.6" y="474.8" style="font-family:'Liberation Serif',serif;font-weight:bold"><tspan style="font-size:14px" dy="0">Mn</tspan><tspan style="font-size:9px;font-weight:normal" dy="5.6">0.80</tspan><tspan style="font-size:14px" dy="-5.6">Ni</tspan><tspan style="font-size:9px;font-weight:normal" dy="5.6">0.20</tspan><tspan style="font-size:14px" dy="-5.6">CO</tspan><tspan style="font-size:9px;font-weight:normal" dy="5.6">3</tspan></text>
<path d="M230.5,509.5 H259.5" stroke="#000" stroke-width="1.8"/>
<text x="262.1" y="514.7" style="font-family:'Liberation Serif',serif;font-weight:bold"><tspan style="font-size:14px" dy="0">MnCO</tspan><tspan style="font-size:9px;font-weight:normal" dy="5.6">3</tspan></text>
<path d="M81.3,529.5 L81.3,549.3" stroke="#000" stroke-width="0.9"/>
<path d="M81.3,554.5 L79.5,549.3 L83.1,549.3 Z" fill="#000"/>
<path d="M129.9,509.5 L129.9,535.1" stroke="#000" stroke-width="0.9"/>
<path d="M129.9,540.3 L128.1,535.1 L131.7,535.1 Z" fill="#000"/>
<path d="M250.8,528.0 L250.8,547.4" stroke="#000" stroke-width="0.9"/>
<path d="M250.8,552.6 L249.0,547.4 L252.6,547.4 Z" fill="#000"/>
<path d="M309.8,524.7 L309.8,547.1" stroke="#000" stroke-width="0.9"/>
<path d="M309.8,552.3 L308.0,547.1 L311.6,547.1 Z" fill="#000"/>
<path d="M353.7,594.0 L336.4,601.4" stroke="#000" stroke-width="0.9"/>
<path d="M331.6,603.4 L335.7,599.7 L337.1,603.0 Z" fill="#000"/>
<path d="M365.5,604.9 L352.7,617.9" stroke="#000" stroke-width="0.9"/>
<path d="M349.0,621.6 L351.4,616.6 L353.9,619.2 Z" fill="#000"/>
<text transform="translate(84.2,580.6) rotate(-90)" style="font-family:'Liberation Serif',serif;font-weight:bold;font-size:13px">3450</text>
<text transform="translate(133.9,567.5) rotate(-90)" style="font-family:'Liberation Serif',serif;font-weight:bold;font-size:13px">2353</text>
<text transform="translate(253.3,583.6) rotate(-90)" style="font-family:'Liberation Serif',serif;font-weight:bold;font-size:13px">1623</text>
<text transform="translate(314.7,578.6) rotate(-90)" style="font-family:'Liberation Serif',serif;font-weight:bold;font-size:13px">1026</text>
<text transform="translate(325.3,619.2) rotate(-90)" style="font-family:'Liberation Serif',serif;font-weight:bold;font-size:13px">531</text>
<text transform="translate(346.6,631.1) rotate(-90)" style="font-family:'Liberation Serif',serif;font-weight:bold;font-size:13px">414</text>
</svg>
</body></html>
